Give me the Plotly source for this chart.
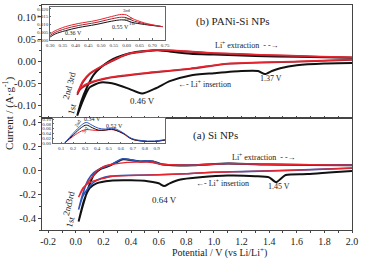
import plotly.graph_objects as go

# ---------------- data: (b) PANi-Si NPs (top panel) ----------------
pani_c1_cat_v = [2.0, 1.8, 1.6, 1.48, 1.42, 1.37, 1.32, 1.2, 1.0, 0.83, 0.68, 0.58, 0.48, 0.39, 0.29, 0.18, 0.10, 0.05, 0.01]
pani_c1_cat_i = [-0.004, -0.005, -0.009, -0.016, -0.022, -0.029, -0.022, -0.022, -0.027, -0.032, -0.045, -0.061, -0.073, -0.063, -0.052, -0.048, -0.059, -0.09, -0.123]
pani_c1_an_v = [0.01, 0.04, 0.08, 0.13, 0.18, 0.24, 0.30, 0.39, 0.5, 0.59, 0.68, 0.83, 1.0, 1.3, 1.6, 2.0]
pani_c1_an_i = [-0.123, -0.09, -0.059, -0.03, -0.014, 0.0, 0.009, 0.018, 0.023, 0.025, 0.022, 0.017, 0.015, 0.012, 0.010, 0.008]

pani_c2_cat_v = [2.0, 1.63, 1.1, 0.83, 0.54, 0.25, 0.10, 0.03, 0.01]
pani_c2_cat_i = [0.003, -0.001, -0.006, -0.017, -0.026, -0.037, -0.05, -0.064, -0.076]
pani_c2_an_v = [0.01, 0.05, 0.10, 0.18, 0.30, 0.39, 0.5, 0.59, 0.79, 1.0, 1.34, 1.77, 2.0]
pani_c2_an_i = [-0.076, -0.048, -0.029, -0.013, 0.006, 0.017, 0.022, 0.025, 0.022, 0.018, 0.014, 0.010, 0.008]

pani_c3_cat_v = [2.0, 1.63, 1.1, 0.83, 0.54, 0.25, 0.10, 0.03, 0.01]
pani_c3_cat_i = [0.004, 0.0, -0.005, -0.016, -0.025, -0.036, -0.048, -0.061, -0.072]
pani_c3_an_v = [0.01, 0.05, 0.10, 0.18, 0.30, 0.39, 0.5, 0.59, 0.79, 1.0, 1.34, 1.77, 2.0]
pani_c3_an_i = [-0.072, -0.045, -0.027, -0.012, 0.007, 0.018, 0.023, 0.026, 0.023, 0.019, 0.015, 0.011, 0.009]

# inset of top panel
pani_in_v = [0.30, 0.32, 0.36, 0.41, 0.48, 0.54, 0.58, 0.60, 0.62, 0.67, 0.74]
pani_in_c1 = [0.0018, 0.0038, 0.0059, 0.0079, 0.0099, 0.0120, 0.0129, 0.0125, 0.0113, 0.0099, 0.0085]
pani_in_c2 = [0.0028, 0.0048, 0.0072, 0.0092, 0.0112, 0.0135, 0.0146, 0.0142, 0.0126, 0.0104, 0.0085]
pani_in_c3 = [0.0038, 0.0059, 0.0085, 0.0105, 0.0125, 0.0150, 0.0164, 0.0160, 0.0139, 0.0109, 0.0085]

# ---------------- data: (a) Si NPs (bottom panel) ----------------
si_c1_cat_v = [2.0, 1.86, 1.68, 1.52, 1.45, 1.40, 1.3, 1.1, 0.9, 0.75, 0.68, 0.64, 0.6, 0.52, 0.4, 0.25, 0.15, 0.1, 0.06, 0.02]
si_c1_cat_i = [-0.008, -0.017, -0.033, -0.04, -0.10, -0.06, -0.05, -0.045, -0.06, -0.08, -0.11, -0.133, -0.11, -0.092, -0.085, -0.088, -0.11, -0.15, -0.25, -0.43]
si_c1_an_v = [0.02, 0.05, 0.09, 0.13, 0.18, 0.25, 0.30, 0.34, 0.37, 0.42, 0.47, 0.52, 0.56, 0.62, 0.7, 0.85, 1.1, 1.4, 1.7, 2.0]
si_c1_an_i = [-0.43, -0.3, -0.15, -0.04, 0.01, 0.04, 0.07, 0.09, 0.09, 0.08, 0.072, 0.075, 0.072, 0.05, 0.042, 0.04, 0.055, 0.047, 0.044, 0.04]

si_c2_cat_v = [2.0, 1.6, 1.2, 1.0, 0.8, 0.6, 0.4, 0.25, 0.18, 0.13, 0.09, 0.05, 0.02]
si_c2_cat_i = [0.017, 0.0, -0.012, -0.017, -0.03, -0.038, -0.042, -0.05, -0.07, -0.1, -0.15, -0.22, -0.33]
si_c2_an_v = [0.02, 0.05, 0.09, 0.13, 0.18, 0.25, 0.30, 0.34, 0.38, 0.45, 0.52, 0.56, 0.62, 0.7, 0.85, 1.1, 1.4, 1.7, 2.0]
si_c2_an_i = [-0.33, -0.2, -0.08, -0.02, 0.015, 0.045, 0.075, 0.095, 0.09, 0.075, 0.078, 0.072, 0.05, 0.045, 0.042, 0.056, 0.048, 0.045, 0.042]

si_c3_cat_v = [2.0, 1.6, 1.2, 1.0, 0.8, 0.6, 0.4, 0.25, 0.18, 0.13, 0.09, 0.05, 0.02]
si_c3_cat_i = [0.017, 0.0, -0.012, -0.017, -0.03, -0.038, -0.045, -0.055, -0.075, -0.09, -0.11, -0.15, -0.225]
si_c3_an_v = [0.02, 0.05, 0.08, 0.12, 0.15, 0.2, 0.25, 0.3, 0.37, 0.45, 0.52, 0.56, 0.62, 0.7, 0.85, 1.1, 1.4, 1.7, 2.0]
si_c3_an_i = [-0.225, -0.16, -0.11, -0.058, -0.01, 0.03, 0.045, 0.055, 0.065, 0.067, 0.068, 0.062, 0.05, 0.045, 0.042, 0.055, 0.048, 0.045, 0.042]

# inset of bottom panel
si_in_v = [0.13, 0.2, 0.27, 0.31, 0.36, 0.41, 0.47, 0.52, 0.56, 0.62, 0.69, 0.77, 0.88, 0.97]
si_in_c1 = [0.0, 0.033, 0.065, 0.075, 0.064, 0.054, 0.054, 0.058, 0.053, 0.040, 0.017, 0.008, 0.006, 0.012]
si_in_c2 = [0.0, 0.040, 0.075, 0.086, 0.074, 0.062, 0.058, 0.062, 0.058, 0.042, 0.019, 0.010, 0.008, 0.014]
si_in_c3 = [0.0, 0.028, 0.050, 0.056, 0.054, 0.052, 0.054, 0.056, 0.052, 0.038, 0.016, 0.008, 0.006, 0.012]

x_ticks = [-0.2, 0.0, 0.2, 0.4, 0.6, 0.8, 1.0, 1.2, 1.4, 1.6, 1.8, 2.0]
x_ticktext = ["-0.2", "0.0", "0.2", "0.4", "0.6", "0.8", "1.0", "1.2", "1.4", "1.6", "1.8", "2.0"]
top_yticks = [-0.10, -0.05, 0.00, 0.05, 0.10]
top_yticktext = ["-0.10", "-0.05", "0.00", "0.05", "0.10"]
bot_yticks = [-0.4, -0.2, 0.0, 0.2, 0.4]
bot_yticktext = ["-0.4", "-0.2", "0.0", "0.2", "0.4"]
pin_xticks = [0.30, 0.35, 0.40, 0.45, 0.50, 0.55, 0.60, 0.65, 0.70, 0.75]
pin_yticks = [0.000, 0.005, 0.010, 0.015, 0.020]
sin_xticks = [0.1, 0.2, 0.3, 0.4, 0.5, 0.6, 0.7, 0.8, 0.9]
sin_yticks = [0.00, 0.02, 0.04, 0.06, 0.08, 0.10]

BLACK = "#111111"
RED2 = "#9b2335"
RED3 = "#e8242e"
BLUE = "#2b55b8"
FONT = "Liberation Serif"

fig = go.Figure()

def cycle(vc, ic, va, ia, color, xa, ya, w=1.8):
    fig.add_trace(go.Scatter(x=vc + va, y=ic + ia, mode="lines",
                             line=dict(color=color, width=w, shape="spline", smoothing=0.6),
                             xaxis=xa, yaxis=ya, showlegend=False, hoverinfo="skip"))

# top panel (xaxis2 / yaxis2)
cycle(pani_c1_cat_v, pani_c1_cat_i, pani_c1_an_v, pani_c1_an_i, BLACK, "x2", "y2", 2.0)
cycle(pani_c2_cat_v, pani_c2_cat_i, pani_c2_an_v, pani_c2_an_i, RED2, "x2", "y2", 1.8)
cycle(pani_c3_cat_v, pani_c3_cat_i, pani_c3_an_v, pani_c3_an_i, RED3, "x2", "y2", 1.4)
# bottom panel (xaxis / yaxis)
cycle(si_c1_cat_v, si_c1_cat_i, si_c1_an_v, si_c1_an_i, BLACK, "x", "y", 2.0)
cycle(si_c2_cat_v, si_c2_cat_i, si_c2_an_v, si_c2_an_i, BLUE, "x", "y", 1.6)
cycle(si_c3_cat_v, si_c3_cat_i, si_c3_an_v, si_c3_an_i, RED3, "x", "y", 1.4)

# insets
for arr, col in [(pani_in_c1, BLACK), (pani_in_c2, RED2), (pani_in_c3, RED3)]:
    fig.add_trace(go.Scatter(x=pani_in_v, y=arr, mode="lines", line=dict(color=col, width=1, shape="spline"),
                             xaxis="x3", yaxis="y3", showlegend=False, hoverinfo="skip"))
for arr, col in [(si_in_c3, RED3), (si_in_c1, BLACK), (si_in_c2, BLUE)]:
    fig.add_trace(go.Scatter(x=si_in_v, y=arr, mode="lines", line=dict(color=col, width=1, shape="spline"),
                             xaxis="x4", yaxis="y4", showlegend=False, hoverinfo="skip"))

axis_common = dict(showline=True, linecolor="#444", linewidth=1, mirror=True, showgrid=False,
                   zeroline=False, tickfont=dict(family=FONT, size=10.5, color="#222"),
                   ticks="outside", ticklen=3, tickcolor="#444")
inset_common = dict(showline=True, linecolor="#666", linewidth=0.8, mirror=True, showgrid=False,
                    zeroline=False, tickfont=dict(family=FONT, size=5, color="#333"),
                    ticks="inside", ticklen=1.5, tickcolor="#666")

fig.update_layout(
    width=370, height=260,
    margin=dict(l=42, r=18, t=5, b=30),
    paper_bgcolor="white", plot_bgcolor="white",
    font=dict(family=FONT, size=11, color="#222"),
    xaxis=dict(domain=[0, 1], anchor="y", range=[-0.245, 2.0], tickvals=x_ticks, ticktext=x_ticktext,
               minor=dict(ticks="outside", ticklen=2, dtick=0.1, tickcolor="#444"),
               **{**axis_common, "ticklen": 2, "tickfont": dict(family=FONT, size=10, color="#222")}),
    yaxis=dict(domain=[0, 0.5], anchor="x", range=[-0.5, 0.44], tickvals=bot_yticks, ticktext=bot_yticktext,
               minor=dict(ticks="outside", ticklen=2, dtick=0.1, tickcolor="#444"), **axis_common),
    xaxis2=dict(domain=[0, 1], anchor="y2", range=[-0.245, 2.0], tickmode="linear", tick0=0, dtick=0.1,
                showticklabels=False, **{**axis_common, "ticks": "inside", "ticklen": 2}),
    yaxis2=dict(domain=[0.5, 1], anchor="x2", range=[-0.127, 0.127], tickvals=top_yticks, ticktext=top_yticktext,
                minor=dict(ticks="outside", ticklen=2, dtick=0.025, tickcolor="#444"), **axis_common),
    xaxis3=dict(domain=[0.026, 0.397], anchor="y3", range=[0.30, 0.75], tickvals=pin_xticks,
                ticktext=["%.2f" % v for v in pin_xticks], **inset_common),
    yaxis3=dict(domain=[0.845, 0.99], anchor="x3", range=[0.0, 0.021], tickvals=pin_yticks,
                ticktext=["%.3f" % v for v in pin_yticks], **inset_common),
    xaxis4=dict(domain=[0.035, 0.397], anchor="y4", range=[0.03, 0.97], tickvals=sin_xticks,
                ticktext=["%.1f" % v for v in sin_xticks], **inset_common),
    yaxis4=dict(domain=[0.385, 0.498], anchor="x4", range=[-0.002, 0.105], tickvals=sin_yticks,
                ticktext=["%.2f" % v for v in sin_yticks], **inset_common),
)

ann = []
def txt(x, y, t, xr, yr, size=9, angle=0, color="#222"):
    ann.append(dict(x=x, y=y, xref=xr, yref=yr, text=t, showarrow=False, textangle=angle,
                    xanchor="center", yanchor="middle",
                    font=dict(family=FONT, size=size, color=color)))

# top panel texts
txt(1.14, 0.089, "(b) PANi-Si NPs", "x2", "y2", 11)
txt(1.24, 0.036, "Li<sup>+</sup> extraction  - -→", "x2", "y2", 8)
txt(0.93, -0.052, "←- Li<sup>+</sup> insertion", "x2", "y2", 8)
txt(1.41, -0.039, "1.37 V", "x2", "y2", 8)
txt(0.48, -0.089, "0.46 V", "x2", "y2", 9)
txt(-0.05, -0.055, "2nd 3rd", "x2", "y2", 9, -75)
txt(-0.03, -0.107, "1st", "x2", "y2", 9, -75)

# bottom panel texts
txt(1.01, 0.29, "(a) Si NPs", "x", "y", 11)
txt(1.36, 0.108, "Li<sup>+</sup> extraction  - -→", "x", "y", 8)
txt(1.06, -0.108, "←- Li<sup>+</sup> insertion", "x", "y", 8)
txt(1.47, -0.133, "1.45 V", "x", "y", 8)
txt(0.64, -0.25, "0.64 V", "x", "y", 9)
txt(-0.04, -0.225, "3rd", "x", "y", 9, -75)
txt(-0.06, -0.325, "2nd", "x", "y", 9, -75)
txt(-0.04, -0.433, "1st", "x", "y", 9, -75)

# insets texts
txt(0.60, 0.0188, "3rd", "x3", "y3", 5)
txt(0.605, 0.0139, "2nd", "x3", "y3", 5)
txt(0.62, 0.0103, "1st", "x3", "y3", 5)
txt(0.575, 0.0080, "0.55 V", "x3", "y3", 6)
txt(0.39, 0.0042, "0.36 V", "x3", "y3", 6)
txt(0.36, 0.100, "0.34 V", "x4", "y4", 6)
txt(0.55, 0.072, "0.52 V", "x4", "y4", 6)
txt(0.24, 0.082, "2nd", "x4", "y4", 5, -60)
txt(0.30, 0.052, "3rd", "x4", "y4", 5, -60)

# axis titles
ann.append(dict(x=-0.11, y=0.52, xref="paper", yref="paper", text="Current / (A·g<sup>-1</sup>)",
                showarrow=False, textangle=-90, xanchor="center", yanchor="middle",
                font=dict(family=FONT, size=11, color="#222")))
ann.append(dict(x=0.574, y=-0.064, xref="paper", yref="paper", text="Potential / V (vs Li/Li<sup>+</sup>)",
                showarrow=False, xanchor="center", yanchor="top",
                font=dict(family=FONT, size=10, color="#222")))

fig.update_layout(annotations=ann)
fig.write_html("out.html", config={"displayModeBar": False},
               post_script="document.body.style.margin='0';document.body.style.overflow='hidden';")
